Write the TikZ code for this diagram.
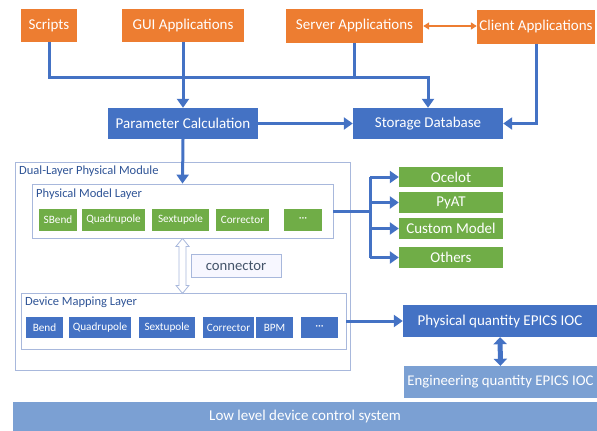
\documentclass[tikz,border=0pt]{standalone}
\usepackage{fontspec}
\setmainfont{Carlito}
\usetikzlibrary{arrows.meta}
\definecolor{appOrange}{HTML}{ED7D31}
\definecolor{calcBlue}{HTML}{4472C4}
\definecolor{modelGreen}{HTML}{70AD47}
\definecolor{iocLight}{HTML}{7BA0D3}
\definecolor{frameLine}{HTML}{A8B8DC}
\definecolor{labelBlue}{HTML}{2F5496}
\definecolor{connText}{HTML}{44546A}
\tikzstyle{base_box}=[rectangle, inner sep=0pt, text=white]
\tikzstyle{app_box}=[base_box, fill=appOrange, font=\fontsize{15}{17}\selectfont]
\tikzstyle{calc_box}=[base_box, fill=calcBlue, font=\fontsize{15}{17}\selectfont]
\tikzstyle{model_box}=[base_box, fill=modelGreen, font=\fontsize{15}{17}\selectfont, minimum width=104pt]
\tikzstyle{elem_green}=[base_box, fill=modelGreen, font=\fontsize{11.2}{13}\selectfont, minimum height=22pt]
\tikzstyle{elem_blue}=[base_box, fill=calcBlue, font=\fontsize{11.2}{13}\selectfont, minimum height=21pt]
\tikzstyle{layer_frame}=[rectangle, draw=frameLine, line width=0.8pt, inner sep=0pt]
\tikzstyle{layer_label}=[anchor=west, inner sep=0pt, text=labelBlue, font=\fontsize{12.5}{14}\selectfont]
\tikzstyle{link}=[draw=calcBlue, line width=3pt]
\tikzstyle{link_arrow}=[link, -{Triangle[length=9pt,width=12pt]}]

\begin{document}
\begin{tikzpicture}[x=1pt, y=-1pt]
  \useasboundingbox (0,0) rectangle (597,431);
  % applications
  \node[app_box, minimum width=56pt, minimum height=33pt] (scripts) at (49,25.5){Scripts};
  \node[app_box, minimum width=122pt, minimum height=33pt] (gui) at (183,25.5){GUI Applications};
  \node[app_box, minimum width=137pt, minimum height=34pt] (server) at (354.5,26){Server Applications};
  \node[app_box, minimum width=118pt, minimum height=34pt] (client) at (536,26.5){Client Applications};
  \node[calc_box, minimum width=150pt, minimum height=31pt] (calc) at (183,123.5){Parameter Calculation};
  \node[calc_box, minimum width=150pt, minimum height=31pt] (storage) at (428,123.5){Storage Database};
  \coordinate (bus) at (354.5,77);
  \draw[appOrange, line width=2pt, {Triangle[length=6pt,width=7pt]}-{Triangle[length=6pt,width=7pt]}]
    (server.east) -- (server.east -| client.west);
  \draw[link_arrow] (scripts.south) |- (bus) -| (storage.north);
  \draw[link] (server.south) -- (bus);
  \draw[link_arrow] (gui.south) -- (calc.north);
  \draw[link_arrow] (calc.east) -- (storage.west);
  \draw[link_arrow] (client.south) |- (storage.east);
  % dual layer module
  \node[layer_frame, minimum width=335pt, minimum height=208pt] (dual) at (182.5,266){};
  \node[layer_label] (dual_lbl) at (19,171){Dual-Layer Physical Module};
  \node[layer_frame, minimum width=301pt, minimum height=54pt] (pml) at (182.5,211){};
  \node[layer_label] (pml_lbl) at (36,194){Physical Model Layer};
  \node[elem_green, minimum width=38pt] (p_sbend) at (58,220){SBend};
  \node[elem_green, minimum width=63pt] (p_quad) at (113.5,220){Quadrupole};
  \node[elem_green, minimum width=57pt] (p_sext) at (180.5,220){Sextupole};
  \node[elem_green, minimum width=53pt] (p_corr) at (242.5,220){Corrector};
  \node[elem_green, minimum width=38pt] (p_more) at (303,220){···};
  \node[layer_frame, minimum width=325pt, minimum height=56pt] (dml) at (183.5,321){};
  \node[layer_label] (dml_lbl) at (25,302){Device Mapping Layer};
  \node[elem_blue, minimum width=37pt] (d_bend) at (44.5,327.5){Bend};
  \node[elem_blue, minimum width=62pt] (d_quad) at (100,327.5){Quadrupole};
  \node[elem_blue, minimum width=56pt] (d_sext) at (167,327.5){Sextupole};
  \node[elem_blue, minimum width=51pt] (d_corr) at (228.5,327.5){Corrector};
  \node[elem_blue, minimum width=37pt] (d_bpm) at (274.5,327.5){BPM};
  \node[elem_blue, minimum width=37pt] (d_more) at (319.5,327.5){···};
  \draw[link_arrow] (calc.south) -- (pml.north);
  % connector between the layers
  \draw[frameLine, fill=white, line width=0.8pt] (pml.south) -- ++(6.5,8) -- ++(-3,0) -- ++(0,39)
    -- ++(3,0) -- ++(-6.5,8) -- ++(-6.5,-8) -- ++(3,0) -- ++(0,-39) -- ++(-3,0) -- cycle;
  \node[layer_frame, fill=blue!3, text=connText, font=\fontsize{14.7}{17}\selectfont,
    minimum width=90pt, minimum height=23pt] (conn) at (236,265.5){connector};
  % physics models
  \node[model_box, minimum height=20pt] (ocelot) at (451,177){Ocelot};
  \node[model_box, minimum height=21pt] (pyat) at (451,202.5){PyAT};
  \node[model_box, minimum height=21pt] (custom) at (451,228.5){Custom Model};
  \node[model_box, minimum height=21pt] (others) at (451,257.5){Others};
  \draw[link] (pml.east) -- ++(37,0) coordinate (split);
  \draw[link] (split |- ocelot.west) -- (split |- others.west);
  \foreach \m in {ocelot,pyat,custom,others}
    \draw[link_arrow] (split |- \m.west) -- (\m.west);
  % IOCs and low level
  \node[calc_box, minimum width=194pt, minimum height=32pt] (phys_ioc) at (500,321){Physical quantity EPICS IOC};
  \node[base_box, fill=iocLight, font=\fontsize{14.8}{17}\selectfont,
    minimum width=193pt, minimum height=32pt] (eng_ioc) at (500.5,382){Engineering quantity EPICS IOC};
  \node[base_box, fill=iocLight, font=\fontsize{15}{17}\selectfont,
    minimum width=584pt, minimum height=29pt] (lowlevel) at (305,416.5){Low level device control system};
  \draw[link_arrow] (dml.east) -- (phys_ioc.west);
  \draw[calcBlue, line width=5pt, {Triangle[length=7pt,width=13pt]}-{Triangle[length=7pt,width=13pt]}]
    (phys_ioc.south) -- (eng_ioc.north);
\end{tikzpicture}
\end{document}
